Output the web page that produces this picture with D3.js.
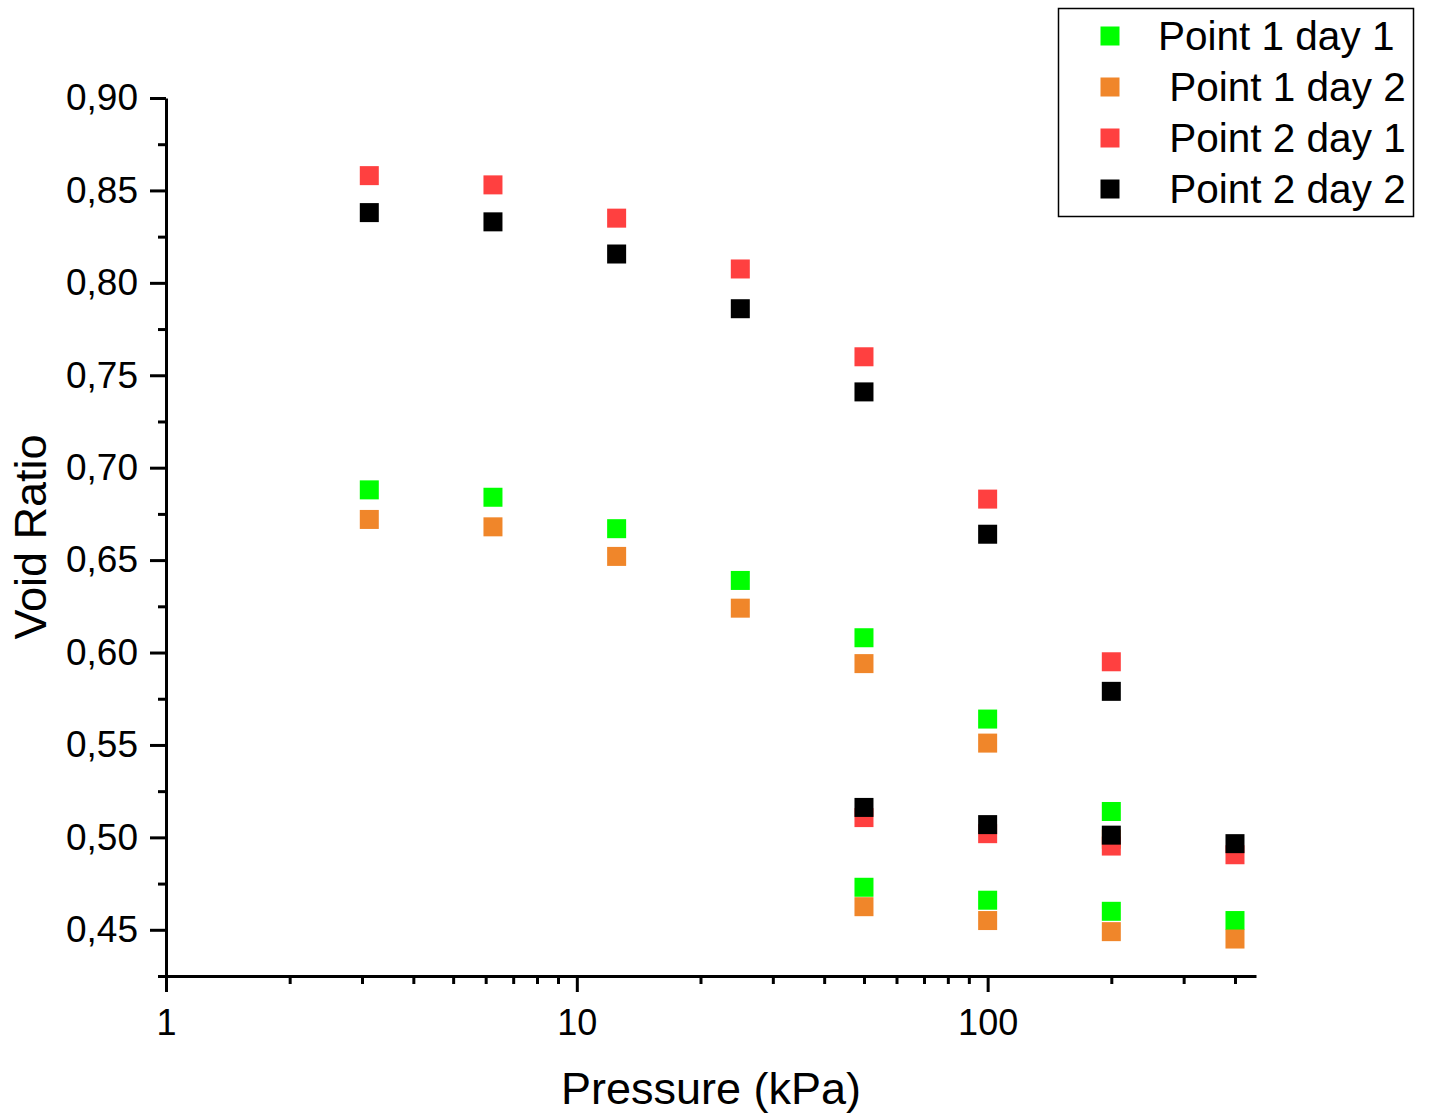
<!DOCTYPE html>
<html lang="en">
<head>
<meta charset="utf-8">
<title>Void ratio vs pressure</title>
<script src="https://cdn.jsdelivr.net/npm/d3@7"></script>
<style>
  body { margin: 0; background: #fff; }
  text { font-family: "Liberation Sans", Arial, sans-serif; fill: #000; }
</style>
</head>
<body>
<script>
// pressure steps (loading up to 400 kPa, then unloading)
var pressure = [3.125, 6.25, 12.5, 25, 50, 100, 200, 400, 200, 100, 50];

var point1Day1 = [0.688, 0.684, 0.667, 0.639, 0.608, 0.564, 0.514, 0.455, 0.460, 0.466, 0.473];
var point1Day2 = [0.672, 0.668, 0.652, 0.624, 0.594, 0.551, 0.499, 0.445, 0.449, 0.455, 0.4625];
var point2Day1 = [0.858, 0.853, 0.835, 0.8075, 0.760, 0.683, 0.595, 0.4906, 0.4953, 0.502, 0.5107];
var point2Day2 = [0.838, 0.833, 0.8156, 0.786, 0.741, 0.664, 0.579, 0.4966, 0.5012, 0.5069, 0.5162];

var seriesNames = ["Point 1 day 1", " Point 1 day 2", " Point 2 day 1", " Point 2 day 2"];
var seriesColors = ["#00ff00", "#f0862a", "#ff4040", "#000000"];

var xMajor = [1, 10, 100];
var xMinor = [2, 3, 4, 5, 6, 7, 8, 9, 20, 30, 40, 50, 60, 70, 80, 90, 200, 300, 400];
var yMajor = [0.45, 0.50, 0.55, 0.60, 0.65, 0.70, 0.75, 0.80, 0.85, 0.90];
var yMinor = [0.425, 0.475, 0.525, 0.575, 0.625, 0.675, 0.725, 0.775, 0.825, 0.875];

var series = [point1Day1, point1Day2, point2Day1, point2Day2].map(function(vals, i) {
  return { name: seriesNames[i], color: seriesColors[i],
           points: vals.map(function(v, j) { return { p: pressure[j], e: v }; }) };
});

var w = 1429, h = 1117;
var svg = d3.select("body").append("svg").attr("width", w).attr("height", h);

var x = d3.scaleLog().domain([1, 450]).range([166, 1256]);
var y = d3.scaleLinear().domain([0.425, 0.90]).range([976, 98]);

var comma = d3.formatLocale({ decimal: ",", thousands: ".", grouping: [3], currency: ["", ""] });

// x axis
var gx = svg.append("g").attr("transform", "translate(0," + y(0.425) + ")");
gx.call(d3.axisBottom(x).tickValues(xMajor).tickSize(16).tickSizeOuter(0).tickPadding(17)
  .tickFormat(d3.format("d")));
gx.append("g").call(d3.axisBottom(x).tickValues(xMinor).tickSize(8).tickFormat(""))
  .select(".domain").remove();
gx.selectAll("text").attr("font-size", "36px").attr("font-family", null);

// y axis
var gy = svg.append("g").attr("transform", "translate(" + x(1) + ",0)");
gy.call(d3.axisLeft(y).tickValues(yMajor).tickSize(16).tickSizeOuter(0).tickPadding(12)
  .tickFormat(comma.format(".2f")));
gy.append("g").call(d3.axisLeft(y).tickValues(yMinor).tickSize(8).tickFormat(""))
  .select(".domain").remove();
gy.selectAll("text").attr("font-size", "37px").attr("font-family", null);

svg.selectAll(".domain, .tick line").attr("stroke", "#000").attr("stroke-width", 3);

// axis titles
svg.append("text")
   .attr("x", (x.range()[0] + x.range()[1]) / 2)
   .attr("y", 1104)
   .attr("text-anchor", "middle")
   .attr("font-size", "45px")
   .text("Pressure (kPa)");

svg.append("text")
   .attr("transform", "translate(46," + (y.range()[0] + y.range()[1]) / 2 + ") rotate(-90)")
   .attr("text-anchor", "middle")
   .attr("font-size", "45px")
   .text("Void Ratio");

// markers
var size = 19;
series.forEach(function(s) {
  svg.append("g").selectAll("rect")
     .data(s.points)
     .enter()
     .append("rect")
     .attr("x", function(d) { return x(d.p) - size / 2; })
     .attr("y", function(d) { return y(d.e) - size / 2; })
     .attr("width", size)
     .attr("height", size)
     .attr("fill", s.color);
});

// legend
var legend = svg.append("g");
legend.append("rect")
      .attr("x", 1058.5).attr("y", 8.5)
      .attr("width", 355).attr("height", 208)
      .attr("fill", "#fff").attr("stroke", "#000").attr("stroke-width", 1.5);

var rows = legend.selectAll("g.row")
  .data(series)
  .enter()
  .append("g")
  .attr("class", "row")
  .attr("transform", function(d, i) { return "translate(1110," + (36 + i * 51) + ")"; });

rows.append("rect")
    .attr("x", -size / 2).attr("y", -size / 2)
    .attr("width", size).attr("height", size)
    .attr("fill", function(d) { return d.color; });

rows.append("text")
    .attr("x", 48)
    .attr("y", 14)
    .attr("font-size", "40.5px")
    .attr("xml:space", "preserve")
    .style("white-space", "pre")
    .text(function(d) { return d.name; });
</script>
</body>
</html>
